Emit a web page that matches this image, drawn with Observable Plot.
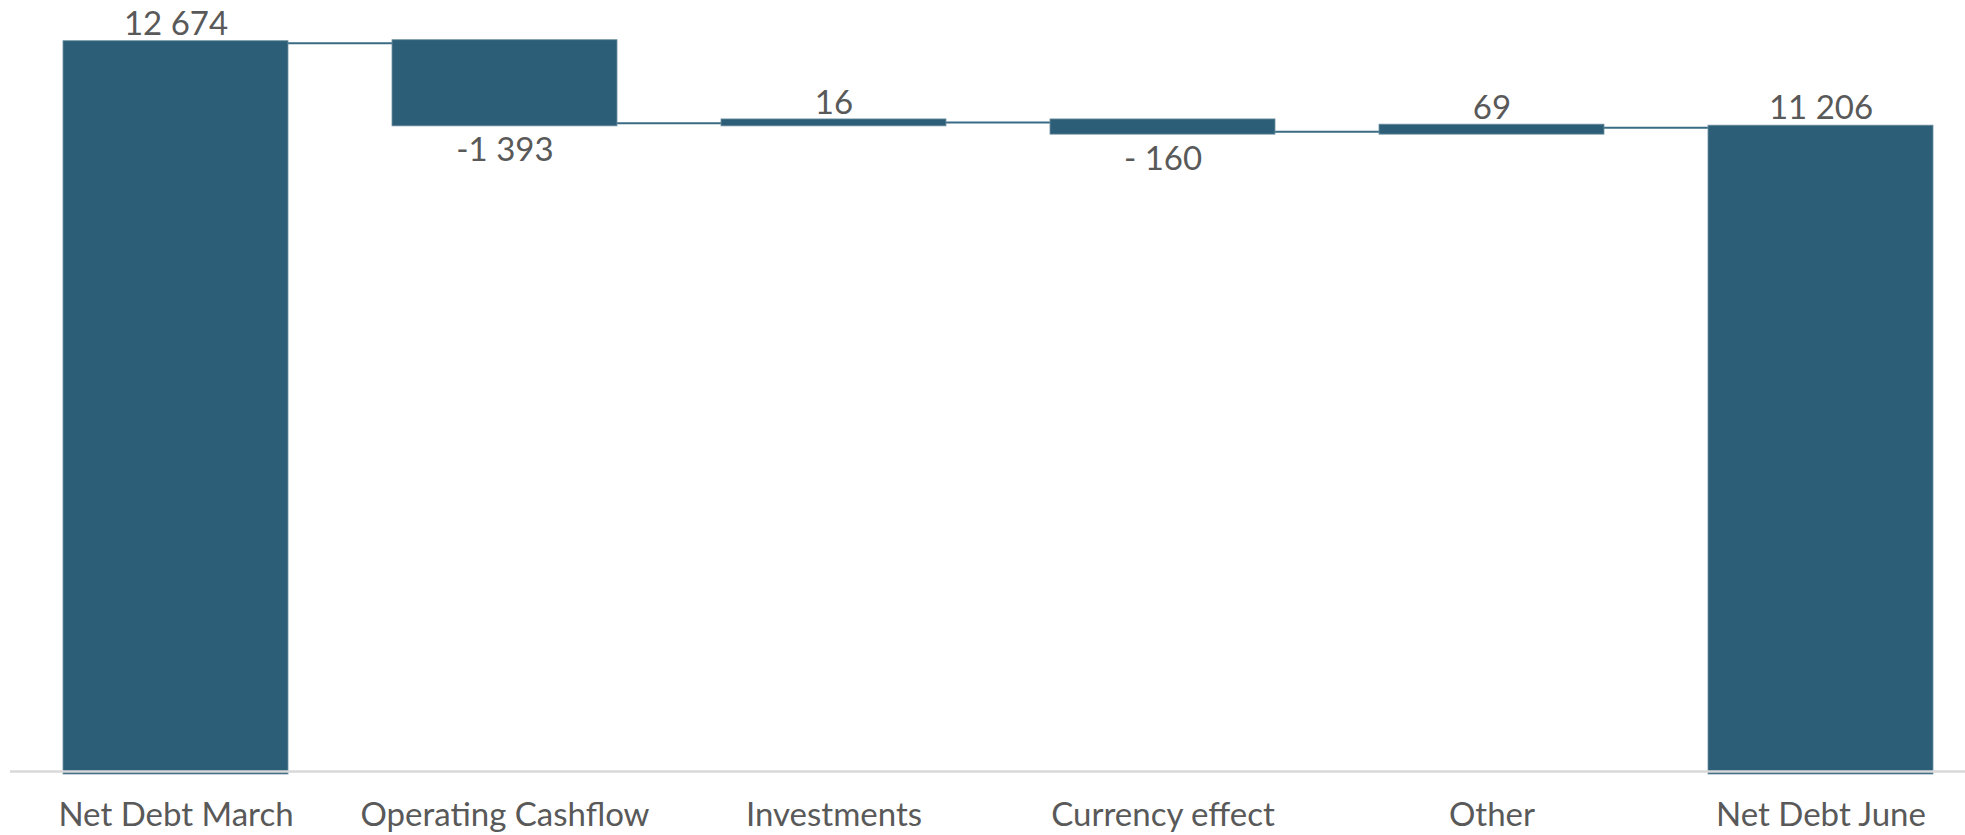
<!DOCTYPE html>
<html>
<head>
<meta charset="utf-8">
<script src="https://cdn.jsdelivr.net/npm/d3@7"></script>
<script src="https://cdn.jsdelivr.net/npm/@observablehq/plot@0.6"></script>
<style>
  html, body { margin: 0; padding: 0; background: #fff; }
  #chart svg { display: block; }
</style>
</head>
<body>
<div id="chart"></div>
<script>
const categories = ["Net Debt March", "Operating Cashflow", "Investments", "Currency effect", "Other", "Net Debt June"];
const values = [12674, -1393, 16, -160, 69, 11206];
const kinds = ["total", "delta", "delta", "delta", "delta", "total"];
const valueLabels = ["12 674", "-1 393", "16", "- 160", "69", "11 206"];

const barColor = "#2d5e77";
const textColor = "#595959";

// build waterfall rows
let running = 0;
const rows = categories.map((c, i) => {
  let start, end;
  if (kinds[i] === "total") { start = 0; end = values[i]; running = values[i]; }
  else { start = running; end = running + values[i]; running = end; }
  return {cat: c, start, end, value: values[i], kind: kinds[i], label: valueLabels[i]};
});
const links = rows.slice(0, -1).map((r, i) => ({from: r.cat, to: rows[i + 1].cat, level: r.end}));

const totals = rows.filter(r => r.kind === "total");
const deltas = rows.filter(r => r.kind === "delta");
const posLabels = rows.filter(r => r.value >= 0).map(r => ({...r, at: Math.max(r.start, r.end)}));
const negLabels = rows.filter(r => r.value < 0).map(r => ({...r, at: Math.min(r.start, r.end)}));

const chart = Plot.plot({
  width: 1965,
  height: 835,
  marginLeft: 10,
  marginRight: 0,
  marginTop: 0,
  marginBottom: 63,
  style: {fontFamily: "Lato, 'Open Sans', sans-serif", background: "#fff"},
  x: {type: "band", domain: categories, range: [10, 1985], paddingInner: 0.317, paddingOuter: 0.158, label: null},
  y: {domain: [0, d3.max(values)], range: [772, 42.7], axis: null},
  marks: [
    Plot.link(links, {x1: "from", x2: "to", y1: "level", y2: "level", stroke: "#3a6b84", strokeWidth: 2}),
    Plot.barY(totals, {x: "cat", y1: "start", y2: "end", fill: barColor, stroke: "#6d8fa1", strokeWidth: 0.8, insetTop: -2, insetBottom: -2}),
    Plot.barY(deltas, {x: "cat", y1: "start", y2: "end", fill: barColor, stroke: "#6d8fa1", strokeWidth: 0.8, insetTop: -3, insetBottom: -3}),
    Plot.ruleY([0], {stroke: "#d9d9d9", strokeWidth: 2.6, dy: -1}),
    Plot.text(posLabels, {x: "cat", y: "at", text: "label", dy: -8.5, lineAnchor: "bottom", fontSize: 33, fill: textColor}),
    Plot.text(negLabels, {x: "cat", y: "at", text: "label", dy: 38, lineAnchor: "bottom", fontSize: 33, fill: textColor}),
    Plot.axisX({tickSize: 0, tickPadding: 30, fontSize: 33, color: textColor, label: null})
  ]
});
document.getElementById("chart").append(chart);
</script>
</body>
</html>
